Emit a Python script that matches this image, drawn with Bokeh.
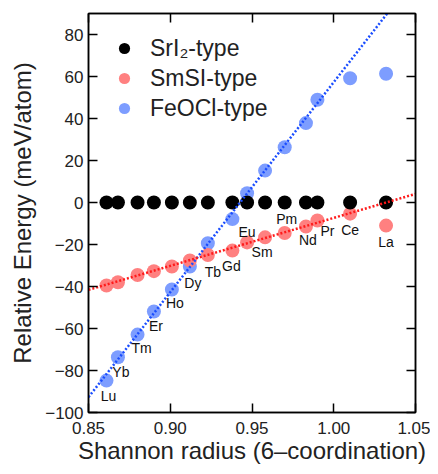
from bokeh.plotting import figure
from bokeh.models import (LinearAxis, FixedTicker, NumeralTickFormatter, Legend,
                          LegendItem, Range1d, ColumnDataSource, CustomJSTickFormatter)
from bokeh.embed import file_html
from bokeh.resources import INLINE
from bokeh.core.properties import value

# ---- data ----
elements = ["La", "Ce", "Pr", "Nd", "Pm", "Sm", "Eu", "Gd", "Tb", "Dy", "Ho", "Er", "Tm", "Yb", "Lu"]
radius = [1.032, 1.010, 0.990, 0.983, 0.970, 0.958, 0.947, 0.938, 0.923, 0.912, 0.901, 0.890, 0.880, 0.868, 0.861]
sri2_type = [0, 0, 0, 0, 0, 0, 0, 0, 0, 0, 0, 0, 0, 0, 0]
smsi_type = [-11.0, -5.3, -8.6, -11.4, -14.5, -16.6, -19.0, -22.9, -25.0, -27.6, -30.5, -32.7, -34.5, -38.0, -39.5]
feocl_type = [61.3, 59.2, 48.9, 37.8, 26.3, 15.2, 4.4, -7.9, -19.4, -30.5, -41.4, -51.9, -62.9, -73.7, -84.8]
label_anchor = ["r", "r", "r", "r", "r", "r", "r", "r", "r", "b", "b", "b", "b", "b", "b"]

fit_x = [0.85, 1.05]
feocl_fit = [-92.7, 107.3]
smsi_fit = [-41.6, 4.1]

x_ticks = [0.85, 0.90, 0.95, 1.00, 1.05]
y_ticks = [-100, -80, -60, -40, -20, 0, 20, 40, 60, 80]

# ---- styling / layout ----
FONT = "Liberation Sans"
RED = "#ff8080"
BLUE = "#7d9dff"
label_dx = [0, 0, 10, 2, 2, -3, 0, -1, 5, 3, 3, 2, 4, 3, 2]
label_dy = [16, 16, 10, 14, -14, 15, -10, 15, 17, 16, 14, 15, 13, 15, 15]

p = figure(width=430, height=466, output_backend="svg", toolbar_location=None,
           x_range=Range1d(0.85, 1.05), y_range=Range1d(-100, 90),
           min_border_left=88, min_border_right=15, min_border_top=13, min_border_bottom=54)
p.grid.visible = False
p.outline_line_color = "black"
p.outline_line_width = 1.5
p.background_fill_color = "white"
p.border_fill_color = "white"

blue_r = p.scatter(radius, feocl_type, size=14, color=BLUE, line_color=None)
red_r = p.scatter(radius, smsi_type, size=14, color=RED, line_color=None)
black_r = p.scatter(radius, sri2_type, size=14, color="black", line_color=None)

p.line(fit_x, feocl_fit, line_color="#1a4dff", line_width=2.5, line_dash="2 2")
p.line(fit_x, smsi_fit, line_color="#ff1a1a", line_width=2.5, line_dash="2 2")

ly = [smsi_type[i] if a == "r" else feocl_type[i] for i, a in enumerate(label_anchor)]
src = ColumnDataSource(dict(x=radius, y=ly, t=elements, dx=label_dx, dy=label_dy))
p.text("x", "y", text="t", x_offset="dx", y_offset="dy", source=src,
       text_align="center", text_baseline="middle", text_font=value(FONT),
       text_font_size="14px", text_color="#111111")

minus = CustomJSTickFormatter(code="return tick < 0 ? '\u2212' + Math.abs(tick) : '' + tick;")
blank = CustomJSTickFormatter(code="return '';")

for ax in p.xaxis:
    ax.ticker = FixedTicker(ticks=x_ticks)
    ax.formatter = NumeralTickFormatter(format="0.00")
for ax in p.yaxis:
    ax.ticker = FixedTicker(ticks=y_ticks)
    ax.formatter = minus

for ax in list(p.xaxis) + list(p.yaxis):
    ax.major_tick_in = 9
    ax.major_tick_out = 0
    ax.minor_tick_in = 0
    ax.minor_tick_out = 0
    ax.major_tick_line_width = 1.5
    ax.axis_line_width = 1.5
    ax.major_label_text_font = FONT
    ax.major_label_text_font_size = "17px"
    ax.major_label_text_color = "#222222"
    ax.axis_label_text_font = FONT
    ax.axis_label_text_font_size = "24px"
    ax.axis_label_text_font_style = "normal"
    ax.axis_label_text_color = "#222222"
    ax.major_label_standoff = 5

p.xaxis.major_label_standoff = 9
p.xaxis.axis_label = "Shannon radius (6\u2013coordination)"
p.yaxis.axis_label = "Relative Energy (meV/atom)"
p.xaxis.axis_label_standoff = 0
p.yaxis.axis_label_standoff = 6

top = LinearAxis(ticker=FixedTicker(ticks=x_ticks), formatter=blank,
                 major_tick_in=9, major_tick_out=0, minor_tick_in=0, minor_tick_out=0,
                 major_tick_line_width=1.5, axis_line_width=1.5, major_label_standoff=0)
right = LinearAxis(ticker=FixedTicker(ticks=y_ticks), formatter=blank,
                   major_tick_in=9, major_tick_out=0, minor_tick_in=0, minor_tick_out=0,
                   major_tick_line_width=1.5, axis_line_width=1.5, major_label_standoff=0)
p.add_layout(top, "above")
p.add_layout(right, "right")

legend = Legend(items=[LegendItem(label="SrI\u2082-type", renderers=[black_r]),
                       LegendItem(label="SmSI-type", renderers=[red_r]),
                       LegendItem(label="FeOCl-type", renderers=[blue_r])],
                location=(22, 290))
legend.label_text_font = FONT
legend.label_text_font_size = "23px"
legend.label_text_color = "#222222"
legend.border_line_color = None
legend.background_fill_alpha = 0
legend.glyph_width = 28
legend.glyph_height = 28
legend.label_standoff = 12
legend.spacing = 2
legend.margin = 0
legend.padding = 6
p.add_layout(legend)

open("out.html", "w").write(file_html(p, INLINE))
